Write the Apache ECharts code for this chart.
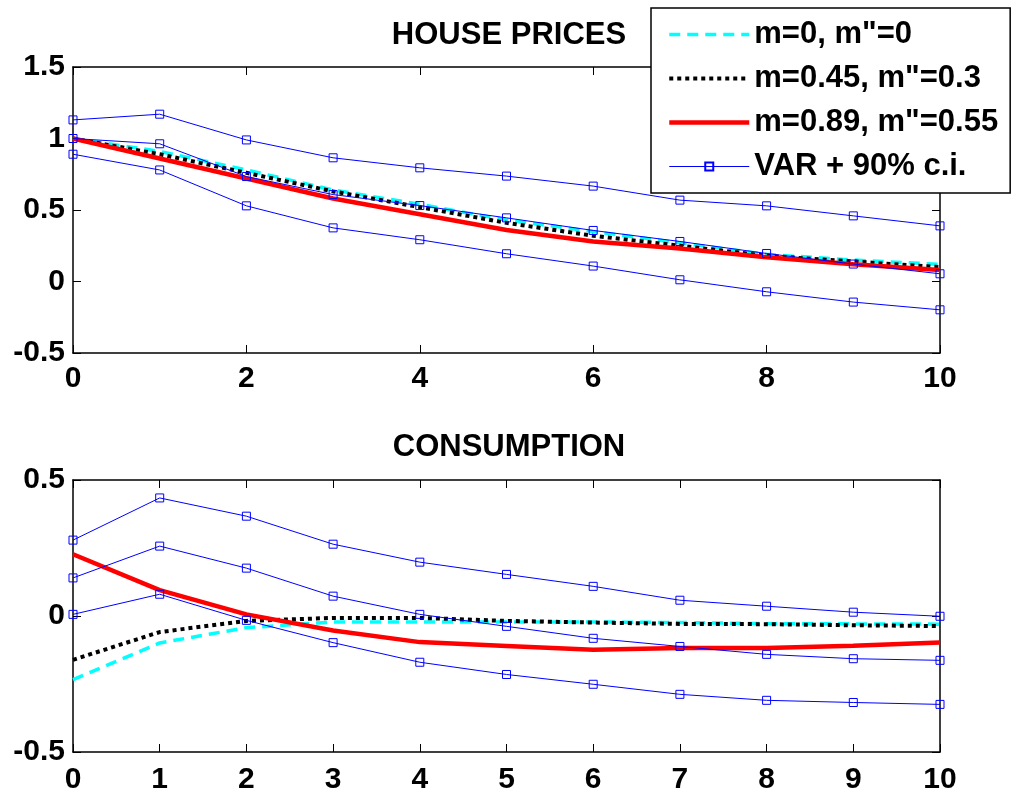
<!DOCTYPE html>
<html>
<head>
<meta charset="utf-8">
<script src="https://cdn.jsdelivr.net/npm/echarts@6/dist/echarts.min.js"></script>
<style>html,body{margin:0;padding:0;background:#fff;}#c{width:1017px;height:795px;}</style>
</head>
<body>
<div id="c"></div>
<script>
// ---- data ----
const periods = [0,1,2,3,4,5,6,7,8,9,10];
const seriesNames = ['m=0, m"=0', 'm=0.45, m"=0.3', 'm=0.89, m"=0.55', 'VAR + 90% c.i.'];
const titles = ['HOUSE PRICES', 'CONSUMPTION'];

// House prices
const hpM0   = [1.00, 0.91, 0.78, 0.64, 0.54, 0.43, 0.35, 0.27, 0.19, 0.15, 0.12];
const hpM45  = [1.00, 0.89, 0.76, 0.63, 0.52, 0.41, 0.32, 0.25, 0.18, 0.14, 0.10];
const hpM89  = [1.00, 0.86, 0.72, 0.58, 0.47, 0.36, 0.28, 0.23, 0.17, 0.12, 0.08];
const hpVarUp  = [1.13, 1.17, 0.99, 0.865, 0.795, 0.737, 0.667, 0.569, 0.529, 0.459, 0.389];
const hpVar    = [1.00, 0.963, 0.734, 0.608, 0.531, 0.445, 0.357, 0.28, 0.196, 0.122, 0.054];
const hpVarLo  = [0.89, 0.78, 0.529, 0.375, 0.292, 0.194, 0.108, 0.012, -0.072, -0.144, -0.198];

// Consumption
const cM0   = [-0.234, -0.099, -0.043, -0.022, -0.022, -0.022, -0.022, -0.024, -0.028, -0.029, -0.030];
const cM45  = [-0.161, -0.059, -0.018, -0.007, -0.007, -0.018, -0.024, -0.029, -0.030, -0.034, -0.037];
const cM89  = [0.227, 0.095, 0.006, -0.053, -0.096, -0.110, -0.124, -0.118, -0.118, -0.109, -0.097];
const cVarUp = [0.279, 0.434, 0.367, 0.264, 0.198, 0.153, 0.109, 0.058, 0.036, 0.014, -0.001];
const cVar   = [0.140, 0.257, 0.176, 0.073, 0.006, -0.038, -0.082, -0.112, -0.141, -0.157, -0.163];
const cVarLo = [0.006, 0.080, -0.016, -0.098, -0.170, -0.215, -0.251, -0.288, -0.310, -0.318, -0.325];

const hpYTicks = [-0.5, 0, 0.5, 1, 1.5];
const cYTicks = [-0.5, 0, 0.5];

// ---- build ----
const FONT = '"Liberation Sans", Arial, sans-serif';
const pairs = arr => arr.map((v, i) => [periods[i], v]);

function modelSeries(idx, data, gi) {
  const styles = [
    {color: '#00FFFF', width: 3.5, type: [11, 7]},
    {color: '#000000', width: 4, type: [4, 4]},
    {color: '#FF0000', width: 4.5, type: 'solid'}
  ];
  const s = styles[idx];
  return {
    name: seriesNames[idx], type: 'line', xAxisIndex: gi * 2, yAxisIndex: gi * 2,
    data: pairs(data), showSymbol: false, symbol: 'none', silent: true,
    lineStyle: {color: s.color, width: s.width, type: s.type, cap: 'butt'},
    itemStyle: {color: s.color, opacity: 0}, z: 3, animation: false
  };
}
function varSeries(data, gi) {
  return {
    name: seriesNames[3], type: 'line', xAxisIndex: gi * 2, yAxisIndex: gi * 2,
    data: pairs(data), symbol: 'rect', symbolSize: 8, showSymbol: true, silent: true,
    lineStyle: {color: '#0000FF', width: 1},
    itemStyle: {color: 'rgba(0,0,0,0)', borderColor: '#0000FF', borderWidth: 1},
    z: 4, animation: false
  };
}

const grids = [
  {left: 73, right: 77, top: 67, height: 286},
  {left: 73, right: 77, top: 480, height: 272}
];
const axLine = {show: true, onZero: false, lineStyle: {color: '#000', width: 1.5}};
const labelStyle = {color: '#000', fontFamily: FONT, fontWeight: 'bold', fontSize: 30};
const tick = {show: true, inside: true, length: 8, lineStyle: {color: '#000', width: 1}};

function xAxes(gi, interval, margin) {
  return [
    {type: 'value', gridIndex: gi, min: 0, max: 10, interval: interval, position: 'bottom',
     axisLine: axLine, axisTick: tick,
     axisLabel: Object.assign({margin: margin}, labelStyle), splitLine: {show: false}},
    {type: 'value', gridIndex: gi, min: 0, max: 10, interval: interval, position: 'top',
     axisLine: axLine, axisTick: tick,
     axisLabel: {show: false}, splitLine: {show: false}}
  ];
}
function yAxes(gi, ticks) {
  const mn = ticks[0], mx = ticks[ticks.length - 1];
  return [
    {type: 'value', gridIndex: gi, min: mn, max: mx, interval: 0.5, position: 'left',
     axisLine: axLine, axisTick: tick,
     axisLabel: Object.assign({margin: 8, formatter: v => String(v)}, labelStyle), splitLine: {show: false}},
    {type: 'value', gridIndex: gi, min: mn, max: mx, interval: 0.5, position: 'right',
     axisLine: axLine, axisTick: tick,
     axisLabel: {show: false}, splitLine: {show: false}}
  ];
}

const option = {
  backgroundColor: '#fff',
  animation: false,
  title: [
    {text: titles[0], left: 504, top: 15, textAlign: 'center',
     textStyle: {fontFamily: FONT, fontWeight: 'bold', fontSize: 31, color: '#000'}},
    {text: titles[1], left: 504, top: 427, textAlign: 'center',
     textStyle: {fontFamily: FONT, fontWeight: 'bold', fontSize: 31, color: '#000'}}
  ],
  legend: {
    data: seriesNames, orient: 'vertical', left: 651, top: 8,
    itemWidth: 80, itemHeight: 10, itemGap: 13,
    padding: [11, 12, 11, 16],
    backgroundColor: '#fff', borderColor: '#000', borderWidth: 1.5, borderRadius: 0,
    selectedMode: false, z: 10,
    lineStyle: {width: 'inherit', type: 'inherit'},
    textStyle: {fontFamily: FONT, fontWeight: 'bold', fontSize: 31, lineHeight: 31, color: '#000'}
  },
  grid: grids,
  xAxis: [...xAxes(0, 2, 11), ...xAxes(1, 1, 13)],
  yAxis: [...yAxes(0, hpYTicks), ...yAxes(1, cYTicks)],
  series: [
    modelSeries(0, hpM0, 0), modelSeries(1, hpM45, 0), modelSeries(2, hpM89, 0),
    varSeries(hpVarUp, 0), varSeries(hpVar, 0), varSeries(hpVarLo, 0),
    modelSeries(0, cM0, 1), modelSeries(1, cM45, 1), modelSeries(2, cM89, 1),
    varSeries(cVarUp, 1), varSeries(cVar, 1), varSeries(cVarLo, 1)
  ]
};
const chart = echarts.init(document.getElementById('c'), null, {renderer: 'canvas'});
chart.setOption(option);
</script>
</body>
</html>
